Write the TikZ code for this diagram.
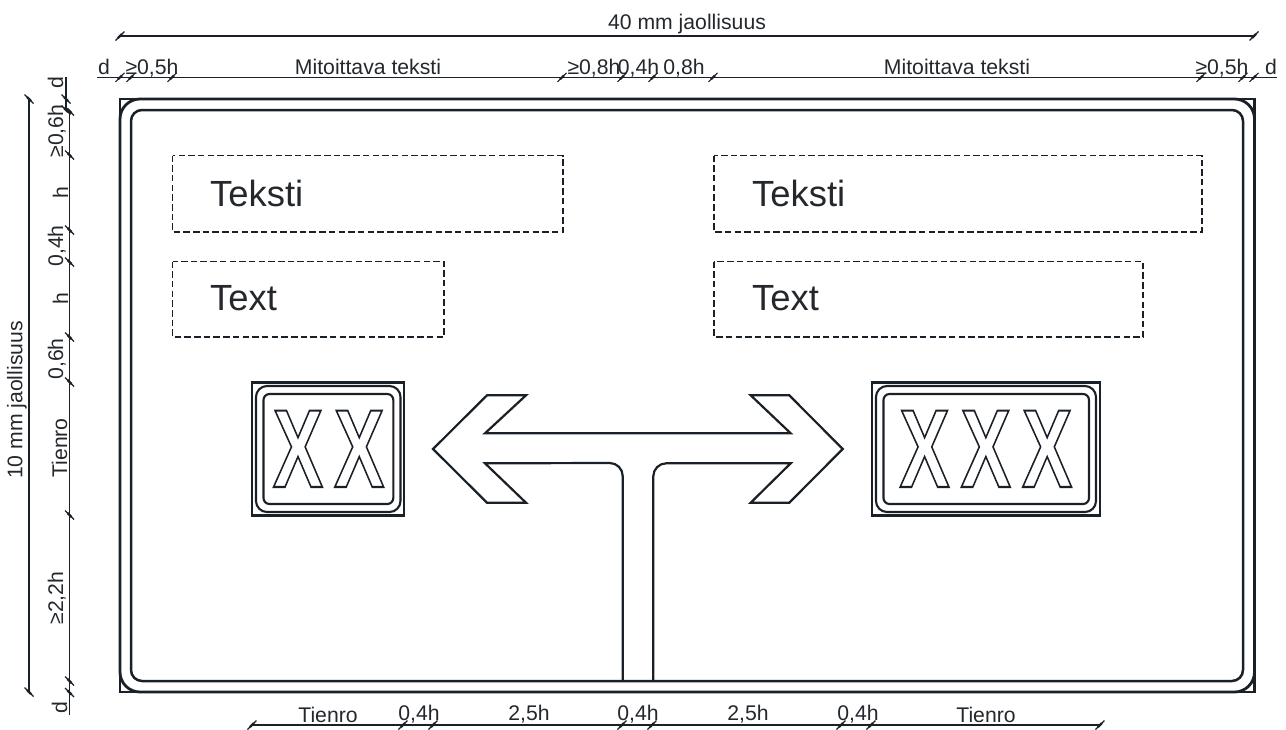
\documentclass[tikz,border=0pt]{standalone}
\usepackage{fontspec}
\setmainfont{Liberation Sans}
\definecolor{ink}{HTML}{1A2027}
\definecolor{txt}{HTML}{24282C}
\newcommand{\outlinedletters}[1]{\scalebox{.677}[1]{\fontsize{111}{111}\selectfont\bfseries\special{pdf:literal direct 1 Tr 2.1 w}#1\special{pdf:literal direct 0 Tr 1 w}}}
\newcommand{\ltick}[2]{\draw[ticks] (#1-4.5,#2+4.5) -- (#1+4.5,#2-4.5);\draw[tickcore] (#1-2,#2+2) -- (#1+2,#2-2);}
\newcommand{\vtick}[2]{\draw[ticks] (#1-4.5,#2-4.5) -- (#1+4.5,#2+4.5);\draw[tickcore] (#1-2,#2-2) -- (#1+2,#2+2);}
\tikzset{
  dimline/.style={draw=ink,line width=1.2pt},
  ticks/.style={draw=ink,line width=1.1pt},
  tickcore/.style={draw=ink,line width=2.2pt},
  frameline/.style={draw=ink,line width=2.8pt},
  signouter/.style={draw=ink,line width=2.5pt},
  signline/.style={draw=ink,line width=2.1pt},
  symbol/.style={draw=ink,line width=2.2pt,line join=miter},
  dashbox/.style={draw=ink,line width=1.1pt,dash pattern=on 6.5pt off 3.2pt},
  dimtext/.style={inner sep=0pt,anchor=base,text=txt,font=\fontsize{21.2}{21.2}\selectfont},
  vdimtext/.style={dimtext,rotate=90},
  bigtext/.style={inner sep=0pt,anchor=base west,text=txt,font=\fontsize{36.4}{36.4}\selectfont},
  letters/.style={inner sep=0pt,anchor=base west,text=ink}
}
\begin{document}
\begin{tikzpicture}[x=1pt,y=-1pt]
\useasboundingbox (0,0) rectangle (1286,729);
% frame
\draw[frameline] (120,99) rectangle (1254.5,692);
\draw[frameline,rounded corners=20pt] (120,99) rectangle (1254.5,692);
\draw[frameline,line width=2.5pt,rounded corners=11pt] (131,110) rectangle (1243,681);
% dashed boxes
\draw[dashbox] (172.5,155.5) rectangle (563,232);
\draw[dashbox] (172.5,261.5) rectangle (444,337);
\draw[dashbox] (714,155.5) rectangle (1202,232);
\draw[dashbox] (714,261.5) rectangle (1143,337);
\node[bigtext] (teksti1) at (210,206) {Teksti};
\node[bigtext] (text1) at (210,310) {Text};
\node[bigtext] (teksti2) at (752,206) {Teksti};
\node[bigtext] (text2) at (752,310) {Text};
% arrow symbol
\draw[symbol]
  (622.7,681) -- (622.7,476) arc[start angle=0,end angle=-90,radius=13] -- (485,463.3)
  -- (526,502.7) -- (487,502.7) -- (433,449) -- (487,395.3) -- (526,395.3) -- (485,433.3)
  -- (790.7,433.3) -- (750.7,395.3) -- (789.3,395.3) -- (842.7,449) -- (789.3,502.7)
  -- (750.7,502.7) -- (790.7,463.3) -- (666.3,463.3) arc[start angle=270,end angle=180,radius=13] -- (653.3,681);
% left route sign
\draw[signouter] (252,382.5) rectangle (404,515.5);
\draw[signline,rounded corners=11pt] (256,386) rectangle (400.5,512);
\draw[signline,rounded corners=6pt] (263.5,394) rectangle (393.3,504);
\node[letters] (xx) at (272.7,487) {\outlinedletters{X\kern16.5pt X}};
% right route sign
\draw[signouter] (872,382.5) rectangle (1100,515.5);
\draw[signline,rounded corners=11pt] (876,386) rectangle (1096,512);
\draw[signline,rounded corners=6pt] (883.5,394) rectangle (1089,504);
\node[letters] (xxx) at (899.3,487) {\outlinedletters{X\kern16.5pt X\kern16.5pt X}};
% top dimensions
\coordinate (t1a) at (120,36); \coordinate (t1b) at (1254,36);
\draw[dimline] (t1a) -- (t1b);
\ltick{120}{36}\ltick{1254}{36}
\node[dimtext] (d40) at (687,29) {40 mm jaollisuus};
\coordinate (t2a) at (97,77.3); \coordinate (t2b) at (1277,77.3);
\draw[dimline] (t2a) -- (t2b);
\foreach \x in {120,131,172,562,622,653,713,1201,1243,1254} {\ltick{\x}{77.3}}
\node[dimtext] (ld1) at (104,74) {d};
\node[dimtext] (l05a) at (152,74) {≥0,5h};
\node[dimtext] (lmit1) at (368,74) {Mitoittava teksti};
\node[dimtext] (l08a) at (594,74) {≥0,8h};
\node[dimtext] (l04a) at (638.5,74) {0,4h};
\node[dimtext] (l08b) at (684,74) {0,8h};
\node[dimtext] (lmit2) at (957,74) {Mitoittava teksti};
\node[dimtext] (l05b) at (1222,74) {≥0,5h};
\node[dimtext] (ld2) at (1271,74) {d};
% left dimensions
\coordinate (l1a) at (29,99); \coordinate (l1b) at (29,692);
\draw[dimline] (l1a) -- (l1b);
\vtick{29}{99}\vtick{29}{692}
\node[vdimtext] (d10) at (22.5,400) {10 mm jaollisuus};
\coordinate (l2a) at (66,77); \coordinate (l2b) at (66,110);
\draw[dimline] (l2a) -- (l2b);
\vtick{66}{99}\vtick{66}{110}
\coordinate (l3a) at (69.5,110); \coordinate (l3b) at (69.5,715);
\draw[dimline] (l3a) -- (l3b);
\foreach \y in {111,155,230,262,337,382,515,681,692.5} {\vtick{69.5}{\y}}
\node[vdimtext] (vd1) at (63,83) {d};
\node[vdimtext] (v06a) at (63,131) {≥0,6h};
\node[vdimtext] (vh1) at (68,193) {h};
\node[vdimtext] (v04) at (63,246) {0,4h};
\node[vdimtext] (vh2) at (68,299) {h};
\node[vdimtext] (v06b) at (63,359) {0,6h};
\node[vdimtext] (vtie) at (67,448) {Tienro};
\node[vdimtext] (v22) at (63,598) {≥2,2h};
\node[vdimtext] (vd2) at (67,708) {d};
% bottom dimensions
\coordinate (b1a) at (251,725); \coordinate (b1b) at (1100,725);
\draw[dimline] (b1a) -- (b1b);
\foreach \x in {252,403,433,622,652,841,871,1100} {\ltick{\x}{725}}
\node[dimtext] (btie1) at (328,722) {Tienro};
\node[dimtext] (b04a) at (419,720) {0,4h};
\node[dimtext] (b25a) at (529,720) {2,5h};
\node[dimtext] (b04b) at (638,720) {0,4h};
\node[dimtext] (b25b) at (748,720) {2,5h};
\node[dimtext] (b04c) at (858,720) {0,4h};
\node[dimtext] (btie2) at (986,722) {Tienro};
\end{tikzpicture}
\end{document}
